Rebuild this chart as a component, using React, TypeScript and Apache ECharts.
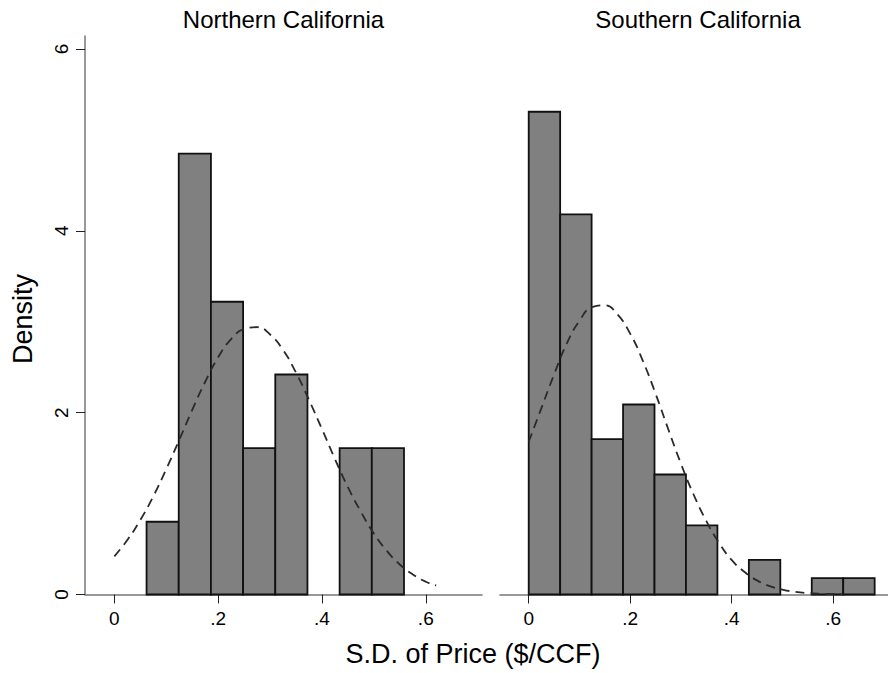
import React, { useEffect, useRef } from "react";
import * as echarts from "echarts";

// Histogram bin edges (S.D. of Price, $/CCF)
const binEdges = [0, 0.062, 0.124, 0.186, 0.248, 0.31, 0.372, 0.434, 0.496, 0.558, 0.62, 0.682];
// Density per bin (11 bins)
const northDensity = [0, 0.8, 4.85, 3.22, 1.61, 2.42, 0, 1.61, 1.61, 0, 0];
const southDensity = [5.31, 4.18, 1.71, 2.09, 1.32, 0.76, 0, 0.38, 0, 0.18, 0.18];

// Normal density overlay
const curveX = [0, 0.025, 0.05, 0.075, 0.1, 0.125, 0.15, 0.175, 0.2, 0.225, 0.25, 0.275, 0.3, 0.325, 0.35, 0.375, 0.4, 0.425, 0.45, 0.475, 0.5, 0.525, 0.55, 0.575, 0.6, 0.62];
const northCurve = [0.42, 0.6, 0.82, 1.08, 1.38, 1.7, 2.03, 2.34, 2.61, 2.81, 2.92, 2.94, 2.86, 2.69, 2.44, 2.14, 1.82, 1.49, 1.18, 0.91, 0.67, 0.48, 0.33, 0.22, 0.14, 0.1];
const southCurve = [1.68, 2.05, 2.42, 2.76, 3.01, 3.16, 3.18, 3.08, 2.87, 2.57, 2.21, 1.82, 1.44, 1.1, 0.81, 0.57, 0.38, 0.25, 0.155, 0.093, 0.054, 0.03, 0.016, 0.008, 0.004, 0.002];

const xTicks = [0, 0.2, 0.4, 0.6];
const yTicks = [0, 2, 4, 6];
const panelTitles = ["Northern California", "Southern California"];
const xTitle = "S.D. of Price ($/CCF)";
const yTitle = "Density";

const FONT = "'Liberation Sans', Arial, Helvetica, sans-serif";

function histData(dens: number[]) {
  const out: number[][] = [];
  dens.forEach((d, i) => {
    if (d > 0) out.push([binEdges[i], binEdges[i + 1], d]);
  });
  return out;
}

const renderBar = (params: any, api: any) => {
  const s = api.value(0);
  const e = api.value(1);
  const h = api.value(2);
  const p0 = api.coord([s, 0]);
  const p1 = api.coord([e, h]);
  return {
    type: "rect",
    shape: { x: p0[0], y: p1[1], width: p1[0] - p0[0], height: p0[1] - p1[1] },
    style: { fill: "#808080", stroke: "#111", lineWidth: 1.8 },
  };
};

export default function App() {
  const ref = useRef<HTMLDivElement>(null);
  useEffect(() => {
    if (!ref.current) return;
    const chart = echarts.init(ref.current, undefined, { renderer: "svg" });
    const xMin = -0.0566;
    const xMax = 0.7083;
    const yMax = 6.143;
    const mkX = (gi: number) => ({
      type: "value",
      gridIndex: gi,
      min: xMin,
      max: xMax,
      splitLine: { show: false },
      axisLine: { show: true, onZero: false, lineStyle: { color: "#777", width: 1.5 } },
      axisTick: { show: true, length: 9, customValues: xTicks, lineStyle: { color: "#222", width: 1 } },
      axisLabel: {
        customValues: xTicks,
        margin: 14,
        fontSize: 19,
        color: "#000",
        fontFamily: FONT,
        formatter: (v: number) => (v === 0 ? "0" : String(+v.toFixed(2)).replace(/^0\./, ".")),
      },
    });
    const mkY = (gi: number, show: boolean) => ({
      type: "value",
      gridIndex: gi,
      min: 0,
      max: yMax,
      show,
      splitLine: { show: false },
      axisLine: { show: true, onZero: false, lineStyle: { color: "#777", width: 1.5 } },
      axisTick: { show: true, length: 9, customValues: yTicks, lineStyle: { color: "#222", width: 1 } },
      axisLabel: {
        customValues: yTicks,
        rotate: 90,
        margin: 14,
        fontSize: 19,
        color: "#000",
        fontFamily: FONT,
      },
    });
    chart.setOption({
      animation: false,
      backgroundColor: "#fff",
      grid: [
        { left: 85, top: 36, width: 397, height: 558.5 },
        { left: 500, top: 36, width: 397, height: 558.5 },
      ],
      xAxis: [mkX(0), mkX(1)],
      yAxis: [mkY(0, true), mkY(1, false)],
      graphic: [
        { type: "text", x: 283.5, y: 19, style: { text: panelTitles[0], font: `24px ${FONT}`, fill: "#000", align: "center", verticalAlign: "middle" } },
        { type: "text", x: 698, y: 19, style: { text: panelTitles[1], font: `24px ${FONT}`, fill: "#000", align: "center", verticalAlign: "middle" } },
        { type: "text", x: 473, y: 654, style: { text: xTitle, font: `27px ${FONT}`, fill: "#000", align: "center", verticalAlign: "middle" } },
        { type: "text", x: 23, y: 319, rotation: Math.PI / 2, style: { text: yTitle, font: `27px ${FONT}`, fill: "#000", align: "center", verticalAlign: "middle" } },
      ],
      series: [
        { type: "custom", xAxisIndex: 0, yAxisIndex: 0, renderItem: renderBar, encode: { x: [0, 1], y: 2 }, data: histData(northDensity), silent: true },
        { type: "custom", xAxisIndex: 1, yAxisIndex: 1, renderItem: renderBar, encode: { x: [0, 1], y: 2 }, data: histData(southDensity), silent: true },
        {
          type: "line", xAxisIndex: 0, yAxisIndex: 0, symbol: "none", smooth: true, silent: true,
          lineStyle: { color: "#2a2a2a", width: 1.8, type: [9, 6] },
          data: curveX.map((x, i) => [x, northCurve[i]]),
        },
        {
          type: "line", xAxisIndex: 1, yAxisIndex: 1, symbol: "none", smooth: true, silent: true,
          lineStyle: { color: "#2a2a2a", width: 1.8, type: [9, 6] },
          data: curveX.map((x, i) => [x, southCurve[i]]),
        },
      ],
    });
    return () => chart.dispose();
  }, []);
  return <div ref={ref} style={{ position: "absolute", left: 0, top: 0, width: 888, height: 673 }} />;
}
